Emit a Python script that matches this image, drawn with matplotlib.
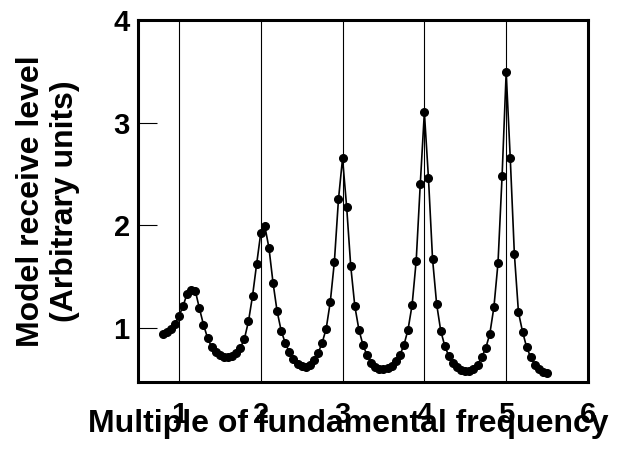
import matplotlib
matplotlib.use("Agg")
import matplotlib.pyplot as plt

plt.rcParams['font.family'] = ['Liberation Sans', 'DejaVu Sans']
plt.rcParams['font.weight'] = 'bold'

freq_multiple = [
    0.80, 0.85, 0.90, 0.95, 1.00, 1.05, 1.10, 1.15, 1.20, 1.25,
    1.30, 1.35, 1.40, 1.45, 1.50, 1.55, 1.60, 1.65, 1.70, 1.75,
    1.80, 1.85, 1.90, 1.95, 2.00, 2.05, 2.10, 2.15, 2.20, 2.25,
    2.30, 2.35, 2.40, 2.45, 2.50, 2.55, 2.60, 2.65, 2.70, 2.75,
    2.80, 2.85, 2.90, 2.95, 3.00, 3.05, 3.10, 3.15, 3.20, 3.25,
    3.30, 3.35, 3.40, 3.45, 3.50, 3.55, 3.60, 3.65, 3.70, 3.75,
    3.80, 3.85, 3.90, 3.95, 4.00, 4.05, 4.10, 4.15, 4.20, 4.25,
    4.30, 4.35, 4.40, 4.45, 4.50, 4.55, 4.60, 4.65, 4.70, 4.75,
    4.80, 4.85, 4.90, 4.95, 5.00, 5.05, 5.10, 5.15, 5.20, 5.25,
    5.30, 5.35, 5.40, 5.45, 5.50,
]
receive_level = [
    0.94, 0.96, 0.99, 1.04, 1.11, 1.21, 1.33, 1.37, 1.36, 1.19,
    1.03, 0.90, 0.81, 0.76, 0.73, 0.71, 0.71, 0.72, 0.75, 0.80,
    0.89, 1.06, 1.31, 1.62, 1.92, 1.99, 1.78, 1.44, 1.16, 0.97,
    0.85, 0.76, 0.69, 0.65, 0.63, 0.62, 0.64, 0.68, 0.75, 0.85,
    0.99, 1.25, 1.64, 2.25, 2.65, 2.18, 1.60, 1.21, 0.98, 0.83,
    0.73, 0.66, 0.62, 0.60, 0.60, 0.61, 0.63, 0.67, 0.73, 0.83,
    0.98, 1.22, 1.65, 2.40, 3.10, 2.46, 1.67, 1.23, 0.97, 0.82,
    0.72, 0.66, 0.62, 0.59, 0.58, 0.58, 0.60, 0.64, 0.71, 0.80,
    0.94, 1.20, 1.63, 2.48, 3.49, 2.65, 1.72, 1.15, 0.96, 0.81,
    0.71, 0.64, 0.60, 0.57, 0.56,
]
x_ticks = [1, 2, 3, 4, 5, 6]
y_ticks = [1, 2, 3, 4]
harmonics = [1, 2, 3, 4, 5]

fig = plt.figure(figsize=(6.26, 4.55), dpi=100)
ax = fig.add_axes([138/626, 1 - 382/455, 450/626, 362/455])

for h in harmonics:
    ax.axvline(h, color='black', lw=0.8, zorder=1)

ax.plot(freq_multiple, receive_level, color='black', lw=1.2,
        marker='o', markersize=5.5, markerfacecolor='black',
        markeredgecolor='black', zorder=3)

ax.set_xlim(0.5, 6.0)
ax.set_ylim(0.47, 4.0)
ax.set_xticks(x_ticks)
ax.set_yticks(y_ticks)
ax.set_xticklabels([str(t) for t in x_ticks])
ax.set_yticklabels([str(t) for t in y_ticks])

ax.tick_params(axis='x', length=0, pad=14, labelsize=21)
ax.tick_params(axis='y', direction='in', length=14, width=0.8, pad=6,
               labelsize=21)

for s in ax.spines.values():
    s.set_linewidth(2.2)
    s.set_color('black')

ax.set_xlabel('Multiple of fundamental frequency', fontsize=23,
              fontweight='bold', va='top')
ax.xaxis.set_label_coords(0.467, -0.075)

ax.set_ylabel('Model receive level\n(Arbitrary units)', fontsize=23,
              fontweight='bold', linespacing=1.15)
ax.yaxis.set_label_coords(-0.13, 0.5)

fig.savefig('out.png', dpi=100)
